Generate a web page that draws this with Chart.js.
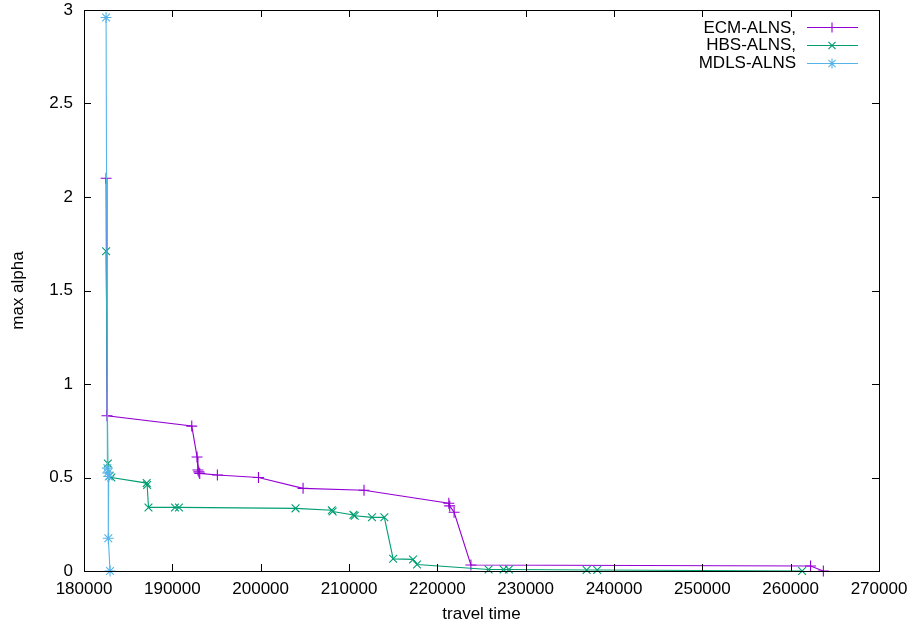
<!DOCTYPE html>
<html>
<head>
<meta charset="utf-8">
<script src="https://cdn.jsdelivr.net/npm/chart.js@4/dist/chart.umd.min.js"></script>
<style>
  html, body { margin: 0; padding: 0; background: #fff; }
  #wrap { width: 921px; height: 627px; }
</style>
</head>
<body>
<div id="wrap"><canvas id="c" width="921" height="627"></canvas></div>
<script>
// data: [travel time, max alpha]
const ecmAlns = [
  [182500, 2.10], [182600, 0.83], [192200, 0.775], [192800, 0.61],
  [192900, 0.54], [193000, 0.53], [193100, 0.522], [195100, 0.513],
  [199750, 0.50], [204800, 0.442], [211700, 0.432], [221300, 0.362],
  [221400, 0.348], [221900, 0.314], [223800, 0.032], [262250, 0.027],
  [263700, 0.0]
];
const hbsAlns = [
  [182500, 1.71], [182700, 0.575], [182900, 0.51], [183100, 0.50],
  [187100, 0.47], [187150, 0.46], [187300, 0.34], [190300, 0.34],
  [190750, 0.34], [203950, 0.335], [208050, 0.325], [208150, 0.318],
  [210500, 0.30], [210650, 0.295], [212600, 0.287], [214000, 0.287],
  [215000, 0.065], [217250, 0.062], [217700, 0.035], [225800, 0.008],
  [227500, 0.008], [228100, 0.008], [236900, 0.005], [238100, 0.005],
  [261300, 0.0]
];
const mdlsAlns = [
  [182500, 2.96], [182650, 0.55], [182700, 0.525], [182800, 0.505],
  [182750, 0.175], [182950, 0.0]
];
const seriesNames = ['ECM-ALNS,', 'HBS-ALNS,', 'MDLS-ALNS'];
const seriesColors = ['#9400d3', '#009e73', '#56b4e9'];
const seriesMarks = ['cross', 'crossRot', 'star'];
const xTicks = [180000, 190000, 200000, 210000, 220000, 230000, 240000, 250000, 260000, 270000];
const yTicks = [0, 0.5, 1, 1.5, 2, 2.5, 3];

const FONT = 'Liberation Sans, Arial, sans-serif';
Chart.defaults.font.family = FONT;
Chart.defaults.font.size = 17;
Chart.defaults.color = '#000';

const toPts = arr => arr.map(p => ({x: p[0], y: p[1]}));

// later series drawn on top, like gnuplot
const makeSet = (i, arr) => ({
  label: seriesNames[i],
  data: toPts(arr),
  order: 3 - i,
  showLine: true,
  borderColor: seriesColors[i],
  backgroundColor: seriesColors[i],
  borderWidth: 1.1,
  pointStyle: seriesMarks[i],
  pointRadius: 5.5,
  pointBorderWidth: 1.1,
  pointBorderColor: seriesColors[i],
  clip: false
});

// gnuplot-ish frame: border, inward ticks mirrored, legend to the top right
const frame = {
  id: 'frame',
  afterDraw(chart) {
    const ctx = chart.ctx;
    const a = chart.chartArea;
    const xs = chart.scales.x, ys = chart.scales.y;
    const tl = 7;
    ctx.save();
    ctx.strokeStyle = '#000';
    ctx.lineWidth = 1;
    ctx.beginPath();
    xTicks.forEach(v => {
      const px = Math.round(xs.getPixelForValue(v)) + 0.5;
      ctx.moveTo(px, a.bottom); ctx.lineTo(px, a.bottom - tl);
      ctx.moveTo(px, a.top); ctx.lineTo(px, a.top + tl);
    });
    yTicks.forEach(v => {
      const py = Math.round(ys.getPixelForValue(v)) + 0.5;
      ctx.moveTo(a.left, py); ctx.lineTo(a.left + tl, py);
      ctx.moveTo(a.right, py); ctx.lineTo(a.right - tl, py);
    });
    ctx.stroke();
    ctx.strokeRect(Math.round(a.left) + 0.5, Math.round(a.top) + 0.5,
      Math.round(a.right - a.left), Math.round(a.bottom - a.top));

    // legend
    ctx.font = '17px ' + FONT;
    ctx.textAlign = 'right';
    ctx.textBaseline = 'middle';
    chart.data.datasets.forEach((ds, i) => {
      const y = 27 + i * 17.8;
      ctx.fillStyle = '#000';
      ctx.fillText(ds.label, 796, y + 1);
      ctx.strokeStyle = ds.borderColor;
      ctx.lineWidth = 1.1;
      ctx.beginPath();
      ctx.moveTo(807, Math.round(y) + 0.5);
      ctx.lineTo(858, Math.round(y) + 0.5);
      ctx.stroke();
      Chart.helpers.drawPoint(ctx, {pointStyle: ds.pointStyle, radius: 5, borderWidth: 1.1, rotation: 0}, 832, Math.round(y) + 0.5);
    });
    ctx.restore();
  }
};

new Chart(document.getElementById('c'), {
  type: 'scatter',
  data: {
    datasets: [
      makeSet(0, ecmAlns),
      makeSet(1, hbsAlns),
      makeSet(2, mdlsAlns)
    ]
  },
  options: {
    responsive: false,
    animation: false,
    devicePixelRatio: 1,
    layout: { padding: { top: 10, right: 42, left: 0, bottom: 0 } },
    plugins: {
      legend: { display: false },
      tooltip: { enabled: false }
    },
    scales: {
      x: {
        type: 'linear',
        min: 180000,
        max: 270000,
        afterFit: s => { s.height = 56; s.paddingLeft = 0; s.paddingRight = 0; },
        afterBuildTicks: s => { s.ticks = xTicks.map(v => ({value: v})); },
        grid: { display: false, drawTicks: false },
        border: { display: false },
        ticks: { padding: 8, maxRotation: 0, autoSkip: false, callback: v => String(v) },
        title: { display: true, text: 'travel time', padding: { top: 0, bottom: 2 } }
      },
      y: {
        type: 'linear',
        min: 0,
        max: 3,
        afterFit: s => { s.width = 84; s.paddingTop = 0; s.paddingBottom = 0; },
        afterBuildTicks: s => { s.ticks = yTicks.map(v => ({value: v})); },
        grid: { display: false, drawTicks: false },
        border: { display: false },
        ticks: { padding: 11, autoSkip: false, callback: v => String(v) },
        title: { display: true, text: 'max alpha', padding: { top: 8, bottom: 0 } }
      }
    }
  },
  plugins: [frame]
});
</script>
</body>
</html>
